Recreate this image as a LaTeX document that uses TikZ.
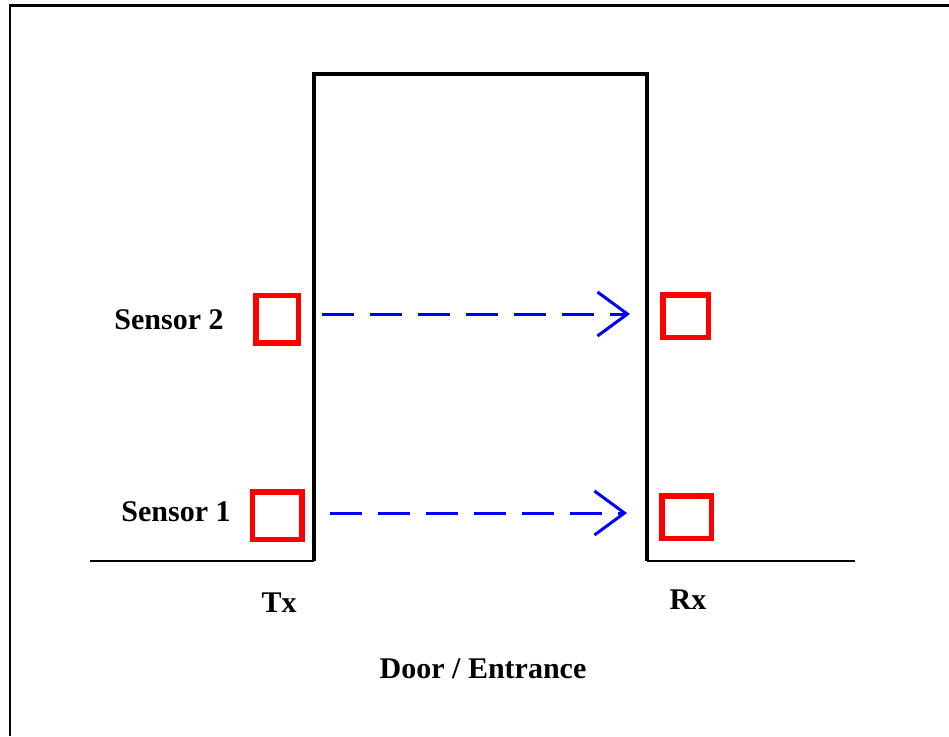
\documentclass[tikz,border=0pt]{standalone}
\usepackage{fontspec}
\setmainfont{Liberation Serif}
\usetikzlibrary{arrows.meta}
\definecolor{sred}{RGB}{255,0,0}
\definecolor{sblue}{RGB}{0,0,255}
\begin{document}
\begin{tikzpicture}[x=1pt,y=-1pt,
  frame/.style={line width=2.3pt,black},
  post/.style={line width=4.5pt,black},
  ground/.style={line width=1.8pt,black},
  sensorbox/.style={draw=sred,line width=5.5pt,inner sep=0pt,minimum width=#1},
  beam/.style={draw=sblue,line width=3pt,dash pattern=on 32pt off 16pt,
    -{Straight Barb[length=30pt,width=44pt,line width=3pt]}},
  lbl/.style={inner sep=0pt,anchor=base,font=\fontsize{30}{36}\selectfont\bfseries}]
\useasboundingbox (0,0) rectangle (949,736);
\fill[white] (0,0) rectangle (949,736);
% frame
\draw[frame] (10,736) -- (10,5.5) -- (949,5.5);
% door
\draw[post,line join=miter] (314,561) -- (314,74) -- (647,74) -- (647,561);
\draw[ground] (90,561) -- (314,561);
\draw[ground] (647,561) -- (855,561);
% sensor boxes
\node[sensorbox=42.5pt,minimum height=47.5pt] (s2l) at (277,319) {};
\node[sensorbox=45.5pt,minimum height=42.5pt] (s2r) at (685.5,316) {};
\node[sensorbox=49.5pt,minimum height=47.5pt] (s1l) at (277,515.5) {};
\node[sensorbox=49.5pt,minimum height=42.5pt] (s1r) at (686.5,517) {};
% beams
\coordinate (b2s) at (322,314);
\coordinate (b2e) at (630,314);
\coordinate (b1s) at (330,513);
\coordinate (b1e) at (627,513);
\draw[beam] (b2s) -- (b2e);
\draw[beam] (b1s) -- (b1e);
% labels
\node[lbl] (l2) at (169,329) {Sensor 2};
\node[lbl] (l1) at (176,521) {Sensor 1};
\node[lbl] (tx) at (279,612) {Tx};
\node[lbl] (rx) at (688,609) {Rx};
\node[lbl] (door) at (483,678) {Door / Entrance};
\end{tikzpicture}
\end{document}
